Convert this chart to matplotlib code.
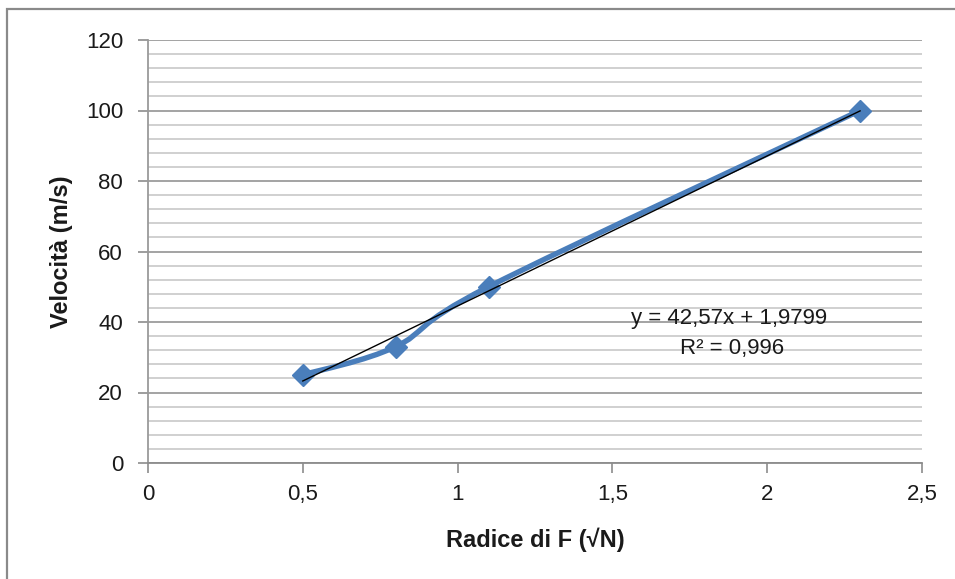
import matplotlib
matplotlib.use("Agg")
import matplotlib.pyplot as plt
import numpy as np
from matplotlib.path import Path
from matplotlib.patches import PathPatch, Rectangle
from matplotlib.ticker import MultipleLocator, FuncFormatter

plt.rcParams["font.family"] = ["Liberation Sans", "DejaVu Sans"]

# data
radice_f = [0.5, 0.8, 1.1, 2.3]
velocita = [25, 33, 50, 100]
slope = 42.57
intercept = 1.9799
eq_text = "y = 42,57x + 1,9799"
r2_text = "R² = 0,996"

BLUE = "#4a7ebb"
TEXT = "#1a1a1a"


def smooth_path(xs, ys):
    # Excel-style smoothed line: Catmull-Rom segments as cubic Beziers
    pts = np.column_stack([xs, ys]).astype(float)
    ext = np.vstack([pts[0], pts, pts[-1]])
    verts = [pts[0]]
    codes = [Path.MOVETO]
    for i in range(1, len(ext) - 2):
        p0, p1, p2, p3 = ext[i - 1], ext[i], ext[i + 1], ext[i + 2]
        verts += [p1 + (p2 - p0) / 6, p2 - (p3 - p1) / 6, p2]
        codes += [Path.CURVE4] * 3
    return Path(verts, codes)


fig = plt.figure(figsize=(9.55, 5.79), dpi=100)
ax = fig.add_axes([148 / 955, 1 - 463 / 579, 774 / 955, 423 / 579])

ax.set_xlim(0, 2.5)
ax.set_ylim(0, 120)
ax.xaxis.set_major_locator(MultipleLocator(0.5))
ax.yaxis.set_major_locator(MultipleLocator(20))
ax.yaxis.set_minor_locator(MultipleLocator(4))
ax.xaxis.set_major_formatter(FuncFormatter(lambda v, _: f"{v:g}".replace(".", ",")))

ax.grid(True, which="minor", axis="y", color="#cdcdcd", linewidth=1.3, zorder=0)
ax.grid(True, which="major", axis="y", color="#a3a3a3", linewidth=1.4, zorder=0)
ax.tick_params(axis="y", which="minor", length=0)
ax.tick_params(axis="both", which="major", direction="out", length=7, width=1.2,
               color="#8c8c8c", labelsize=16, labelcolor=TEXT)
ax.tick_params(axis="y", pad=11)
ax.tick_params(axis="x", pad=8)

for side in ("top", "right"):
    ax.spines[side].set_visible(False)
ax.spines["left"].set_color("#9a9a9a")
ax.spines["bottom"].set_color("#8c8c8c")
ax.spines["left"].set_linewidth(1.3)
ax.spines["bottom"].set_linewidth(1.3)

# smoothed series line with diamond markers
ax.add_patch(PathPatch(smooth_path(radice_f, velocita), facecolor="none", edgecolor=BLUE,
                       linewidth=3.9, capstyle="round", joinstyle="round", zorder=3))
ax.plot(radice_f, velocita, linestyle="none", marker="D", markersize=11.5,
        color=BLUE, zorder=4)

# linear trendline
tx = np.array([min(radice_f), max(radice_f)])
ax.plot(tx, slope * tx + intercept, color="black", linewidth=1.0, zorder=5)

ax.text(1.877, 41.1, eq_text, ha="center", va="center", fontsize=16, color=TEXT, zorder=6)
ax.text(1.885, 32.6, r2_text, ha="center", va="center", fontsize=16, color=TEXT, zorder=6)

ax.set_ylabel("Velocità (m/s)", fontsize=17, fontweight="bold", color=TEXT, va="center")
ax.yaxis.set_label_coords((61 - 148) / 774, 0.5)
ax.set_xlabel("Radice di F (√N)", fontsize=17, fontweight="bold", color=TEXT, va="center")
ax.xaxis.set_label_coords(0.5, (463 - 540) / 423)

# chart area border (only left and top visible in the crop)
fig.add_artist(Rectangle((7 / 955, -0.2), 2, 1.2 - 9 / 579, transform=fig.transFigure,
                         fill=False, edgecolor="#8a8a8a", linewidth=1.6))

fig.savefig("out.png", dpi=100, facecolor="white")
